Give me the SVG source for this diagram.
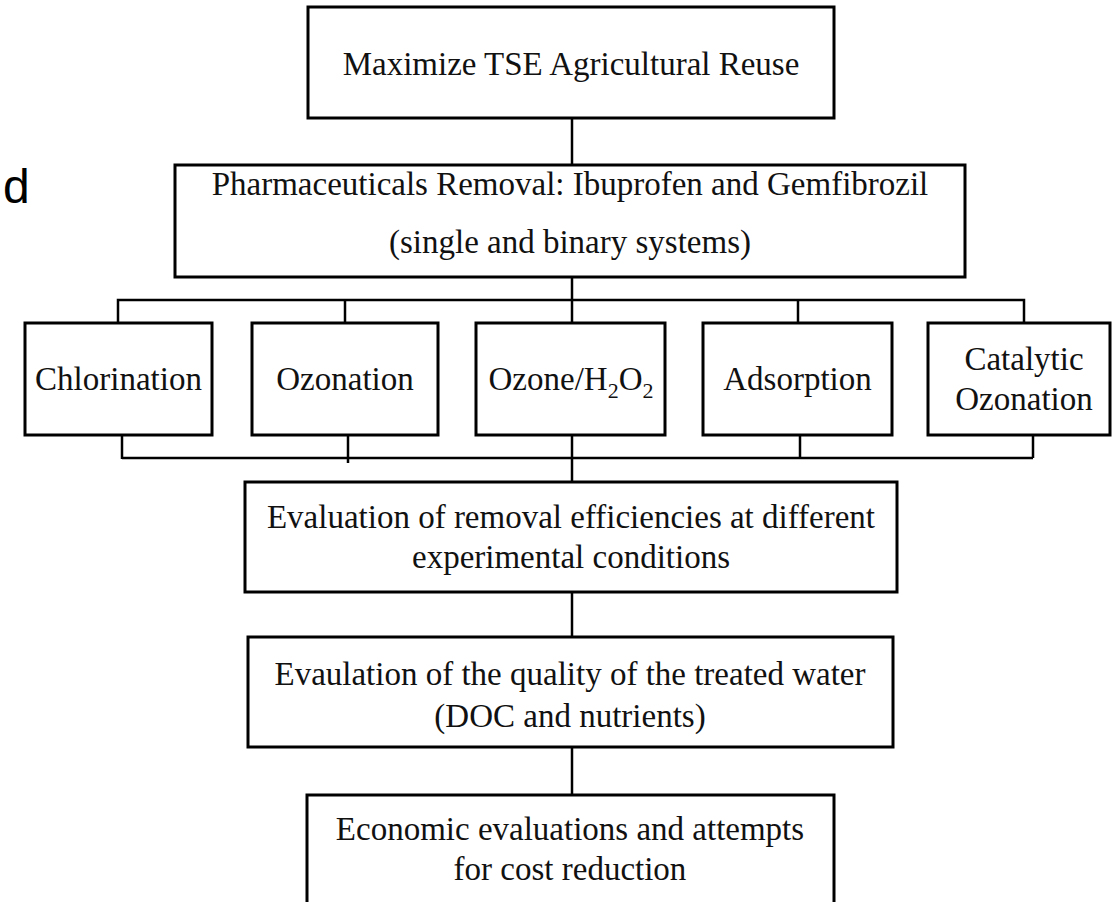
<svg xmlns="http://www.w3.org/2000/svg" width="1112" height="902" viewBox="0 0 1112 902">
  <style>
    .box { fill: #ffffff; stroke: #000000; stroke-width: 3; }
    .lbl { font-family: "Liberation Serif", "Times New Roman", serif; font-size: 33px; fill: #111111; text-anchor: middle; }
    .conn { fill: none; stroke: #000000; stroke-width: 2.5; }
    .side { font-family: "Liberation Sans", Arial, sans-serif; font-size: 48px; fill: #000000; }
  </style>
  <rect width="1112" height="902" fill="#ffffff"/>
  <text class="side" x="3" y="203">d</text>
  <g id="connectors">
    <line class="conn" x1="572" y1="118" x2="572" y2="165"/>
    <line class="conn" x1="572" y1="277" x2="572" y2="323"/>
    <polyline class="conn" points="118,323 118,300 1024,300 1024,323"/>
    <line class="conn" x1="345" y1="300" x2="345" y2="323"/>
    <line class="conn" x1="798" y1="300" x2="798" y2="323"/>
    <polyline class="conn" points="122,435 122,459"/>
    <polyline class="conn" points="348,435 348,463"/>
    <line class="conn" x1="122" y1="458" x2="1033" y2="458"/>
    <line class="conn" x1="800" y1="435" x2="800" y2="458"/>
    <line class="conn" x1="1033" y1="435" x2="1033" y2="458"/>
    <line class="conn" x1="572" y1="435" x2="572" y2="482"/>
    <line class="conn" x1="572" y1="592" x2="572" y2="637"/>
    <line class="conn" x1="572" y1="747" x2="572" y2="795"/>
  </g>
  <g id="n-top">
    <rect class="box" x="308" y="7" width="526" height="111"/>
    <text class="lbl" x="571" y="75">Maximize TSE Agricultural Reuse</text>
  </g>
  <g id="n-pharma">
    <rect class="box" x="175" y="165" width="790" height="112"/>
    <text class="lbl" x="570" y="195">Pharmaceuticals Removal: Ibuprofen and Gemfibrozil</text>
    <text class="lbl" x="570" y="253">(single and binary systems)</text>
  </g>
  <g id="n-chlorination">
    <rect class="box" x="25" y="323" width="187" height="112"/>
    <text class="lbl" x="118.5" y="390">Chlorination</text>
  </g>
  <g id="n-ozonation">
    <rect class="box" x="252" y="323" width="186" height="112"/>
    <text class="lbl" x="345" y="390">Ozonation</text>
  </g>
  <g id="n-ozone-h2o2">
    <rect class="box" x="476" y="323" width="189" height="112"/>
    <text class="lbl" x="571" y="390">Ozone/H<tspan font-size="22" dy="8">2</tspan><tspan dy="-8">O</tspan><tspan font-size="22" dy="8">2</tspan></text>
  </g>
  <g id="n-adsorption">
    <rect class="box" x="703" y="323" width="189" height="112"/>
    <text class="lbl" x="797.5" y="390">Adsorption</text>
  </g>
  <g id="n-catalytic">
    <rect class="box" x="928" y="323" width="182" height="112"/>
    <text class="lbl" x="1024" y="370">Catalytic</text>
    <text class="lbl" x="1024" y="410">Ozonation</text>
  </g>
  <g id="n-eval-removal">
    <rect class="box" x="245" y="482" width="652" height="110"/>
    <text class="lbl" x="571" y="528">Evaluation of removal efficiencies at different</text>
    <text class="lbl" x="571" y="568">experimental conditions</text>
  </g>
  <g id="n-eval-quality">
    <rect class="box" x="248" y="637" width="645" height="110"/>
    <text class="lbl" x="570" y="685">Evaulation of the quality of the treated water</text>
    <text class="lbl" x="570" y="727">(DOC and nutrients)</text>
  </g>
  <g id="n-economic">
    <rect class="box" x="307" y="795" width="527" height="130"/>
    <text class="lbl" x="570" y="840">Economic evaluations and attempts</text>
    <text class="lbl" x="570" y="880">for cost reduction</text>
  </g>
</svg>
